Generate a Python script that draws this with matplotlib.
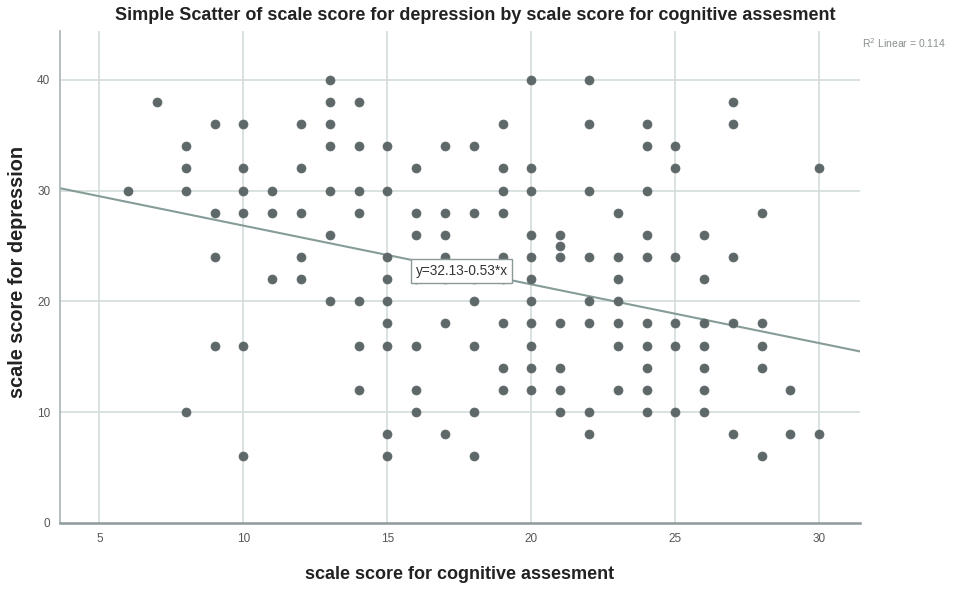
import matplotlib
matplotlib.use("Agg")
import matplotlib.pyplot as plt

plt.rcParams['font.family'] = ['Liberation Sans', 'DejaVu Sans']

# cognitive score (x) -> list of depression scores (y)
cognitive = [6, 7, 8, 9, 10, 11, 12, 13, 14, 15, 16, 17, 18, 19, 20,
             21, 22, 23, 24, 25, 26, 27, 28, 29, 30]
depression_by_cog = [
    [30],
    [38],
    [34, 32, 30, 10],
    [36, 28, 24, 16],
    [36, 32, 30, 28, 16, 6],
    [30, 28, 22],
    [36, 32, 28, 24, 22],
    [40, 38, 36, 34, 30, 26, 20],
    [38, 34, 30, 28, 20, 16, 12],
    [34, 30, 24, 22, 20, 18, 16, 8, 6],
    [32, 28, 26, 22, 16, 12, 10],
    [34, 28, 26, 24, 22, 18, 8],
    [34, 28, 22, 20, 16, 10, 6],
    [36, 32, 30, 28, 24, 22, 18, 14, 12],
    [40, 32, 30, 26, 24, 22, 20, 18, 16, 14, 12],
    [26, 25, 24, 18, 14, 12, 10],
    [40, 36, 30, 24, 20, 18, 10, 8],
    [28, 24, 22, 20, 18, 16, 12],
    [36, 34, 30, 26, 24, 18, 16, 14, 12, 10],
    [34, 32, 24, 18, 16, 10],
    [26, 22, 18, 16, 14, 12, 10],
    [38, 36, 24, 18, 8],
    [28, 18, 16, 14, 6],
    [12, 8],
    [32, 8],
]
intercept = 32.13
slope = -0.53
r2 = 0.114
x_ticks = [5, 10, 15, 20, 25, 30]
y_ticks = [0, 10, 20, 30, 40]

xs, ys = [], []
for c, lst in zip(cognitive, depression_by_cog):
    for d in lst:
        xs.append(c)
        ys.append(d)

fig = plt.figure(figsize=(9.68, 5.90), dpi=100)
ax = fig.add_axes([0.062, 0.1136, 0.826, 0.834])

xmin, xmax = 3.63, 31.4
ax.set_xlim(xmin, xmax)
ax.set_ylim(0, 44.4)

grid_c = '#d3dcdc'
for t in x_ticks:
    ax.axvline(t, color=grid_c, lw=1.2, zorder=0)
for t in y_ticks[1:]:
    ax.axhline(t, color=grid_c, lw=1.2, zorder=0)

ax.scatter(xs, ys, s=42, color='#5e6868', edgecolors='#5e6868', linewidths=0.5, zorder=3)

ax.plot([xmin, xmax], [intercept + slope * xmin, intercept + slope * xmax],
        color='#869c98', lw=1.5, zorder=2)

ax.text(17.58, 22.75, f"y={intercept:.2f}{slope:+.2f}*x",
        fontsize=9.8, color='#333333', ha='center', va='center', zorder=5,
        bbox=dict(boxstyle='square,pad=0.35', fc='white', ec='#8a9a98', lw=1))

ax.set_xticks(x_ticks)
ax.set_yticks(y_ticks)
ax.tick_params(length=0, labelsize=8.5, colors='#555555', pad=7)
for sp in ['top', 'right']:
    ax.spines[sp].set_visible(False)
ax.spines['left'].set_color('#a9b4b4')
ax.spines['left'].set_linewidth(1.2)
ax.spines['bottom'].set_color('#8e9a9a')
ax.spines['bottom'].set_linewidth(1.8)

fig.text(0.491, 0.973, "Simple Scatter of scale score for depression by scale score for cognitive assesment",
         ha='center', va='center', fontsize=13, fontweight='bold', color='#222222')
fig.text(0.475, 0.026, "scale score for cognitive assesment", ha='center', va='center',
         fontsize=13, fontweight='bold', color='#222222')
fig.text(0.018, 0.539, "scale score for depression", ha='center', va='center', rotation=90,
         fontsize=14.3, fontweight='bold', color='#222222')
fig.text(0.891, 0.927, f"R$^2$ Linear = {r2}", ha='left', va='center',
         fontsize=7.5, color='#8a8f8f')

fig.savefig("out.png", dpi=100)
